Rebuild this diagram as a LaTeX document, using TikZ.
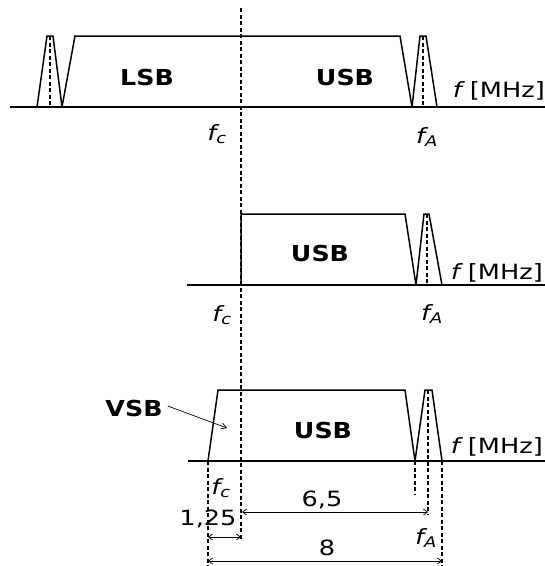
\documentclass[tikz,border=0pt]{standalone}
\usepackage{fontspec}
\setmainfont{DejaVu Sans}
\usetikzlibrary{arrows.meta}
\newcommand{\hs}[1]{\scalebox{1.15}[1]{#1}}
\newcommand{\hr}[1]{\scalebox{1.22}[1]{#1}}
\newcommand{\fsub}[1]{\hr{\itshape f\textsubscript{#1}}}
\begin{document}
\begin{tikzpicture}[x=1pt,y=-1pt,line join=miter]
\tikzset{
  axisline/.style={line width=1.9pt},
  band/.style={line width=1.5pt},
  guide/.style={line width=1.3pt,dash pattern=on 4pt off 2.5pt},
  dimline/.style={line width=0.7pt,{Straight Barb[length=4pt,width=6pt]}-{Straight Barb[length=4pt,width=6pt]}},
  boldlbl/.style={font=\fontsize{22}{26}\selectfont\bfseries,inner sep=0pt},
  lbl/.style={font=\fontsize{21}{25}\selectfont,inner sep=0pt},
}
\useasboundingbox (0,0) rectangle (545,566);
% ---------- top panel ----------
\draw[axisline] (10,107) -- (545,107);
\draw[band] (37,107) -- (47,36) -- (53,36) -- (62,107);
\draw[guide] (50,36) -- (50,107);
\draw[band] (62,107) -- (75,36) -- (400,36) -- (412,107);
\draw[band] (412,107) -- (420,36) -- (426,36) -- (437,107);
\draw[guide] (423,36) -- (423,107);
\node[boldlbl] (lsb) at (147,77) {\hs{LSB}};
\node[boldlbl] (usb1) at (345,77) {\hs{USB}};
\node[lbl,anchor=east] (f1) at (545,91) {\hr{\itshape f}\hr{ [MHz]}};
\node[lbl] (fc1) at (217,134) {\fsub{c}};
\node[lbl] (fa1) at (427,137) {\fsub{A}};
% ---------- carrier guide ----------
\draw[guide] (241,8) -- (241,540);
% ---------- middle panel ----------
\draw[axisline] (187,285) -- (545,285);
\draw[band] (241,285) -- (241,214) -- (405,214) -- (416,285);
\draw[band] (416,285) -- (424,214) -- (429,214) -- (442,285);
\draw[guide] (427,214) -- (427,285);
\node[boldlbl] (usb2) at (320,253) {\hs{USB}};
\node[lbl,anchor=east] (f2) at (543,273) {\hr{\itshape f}\hr{ [MHz]}};
\node[lbl] (fc2) at (222,315) {\fsub{c}};
\node[lbl] (fa2) at (432,314) {\fsub{A}};
% ---------- bottom panel ----------
\draw[axisline] (188,461) -- (545,461);
\draw[band] (208,461) -- (218,390) -- (405,390) -- (415,461);
\draw[band] (415,461) -- (425,390) -- (432,390) -- (442,461);
\draw[guide] (428,390) -- (428,515);
\draw[guide] (208,461) -- (208,566);
\draw[guide] (415,461) -- (415,495);
\draw[guide] (442,461) -- (442,566);
\node[boldlbl] (usb3) at (323,430) {\hs{USB}};
\node[boldlbl] (vsb) at (134,408) {\hs{VSB}};
\coordinate (vsbtip) at (227,428);
\draw[line width=0.7pt,-{Straight Barb[length=5pt,width=6pt]}] (vsb.east) ++(5,-2) -- (vsbtip);
\node[lbl,anchor=east] (f3) at (543,447) {\hr{\itshape f}\hr{ [MHz]}};
\node[lbl] (fc3) at (221,488) {\fsub{c}};
\node[lbl] (fa3) at (426,538) {\fsub{A}};
\coordinate (d65a) at (242,512);
\coordinate (d65b) at (428,512);
\coordinate (d125a) at (208,537);
\coordinate (d125b) at (241,537);
\coordinate (d8a) at (208,561);
\coordinate (d8b) at (442,561);
\draw[dimline] (d65a) -- (d65b);
\draw[dimline] (d125a) -- (d125b);
\draw[dimline] (d8a) -- (d8b);
\node[lbl] (l65) at (322,500) {\hr{6,5}};
\node[lbl] (l125) at (208,519) {\hr{1,25}};
\node[lbl] (l8) at (327,548) {\hr{8}};
\end{tikzpicture}
\end{document}
